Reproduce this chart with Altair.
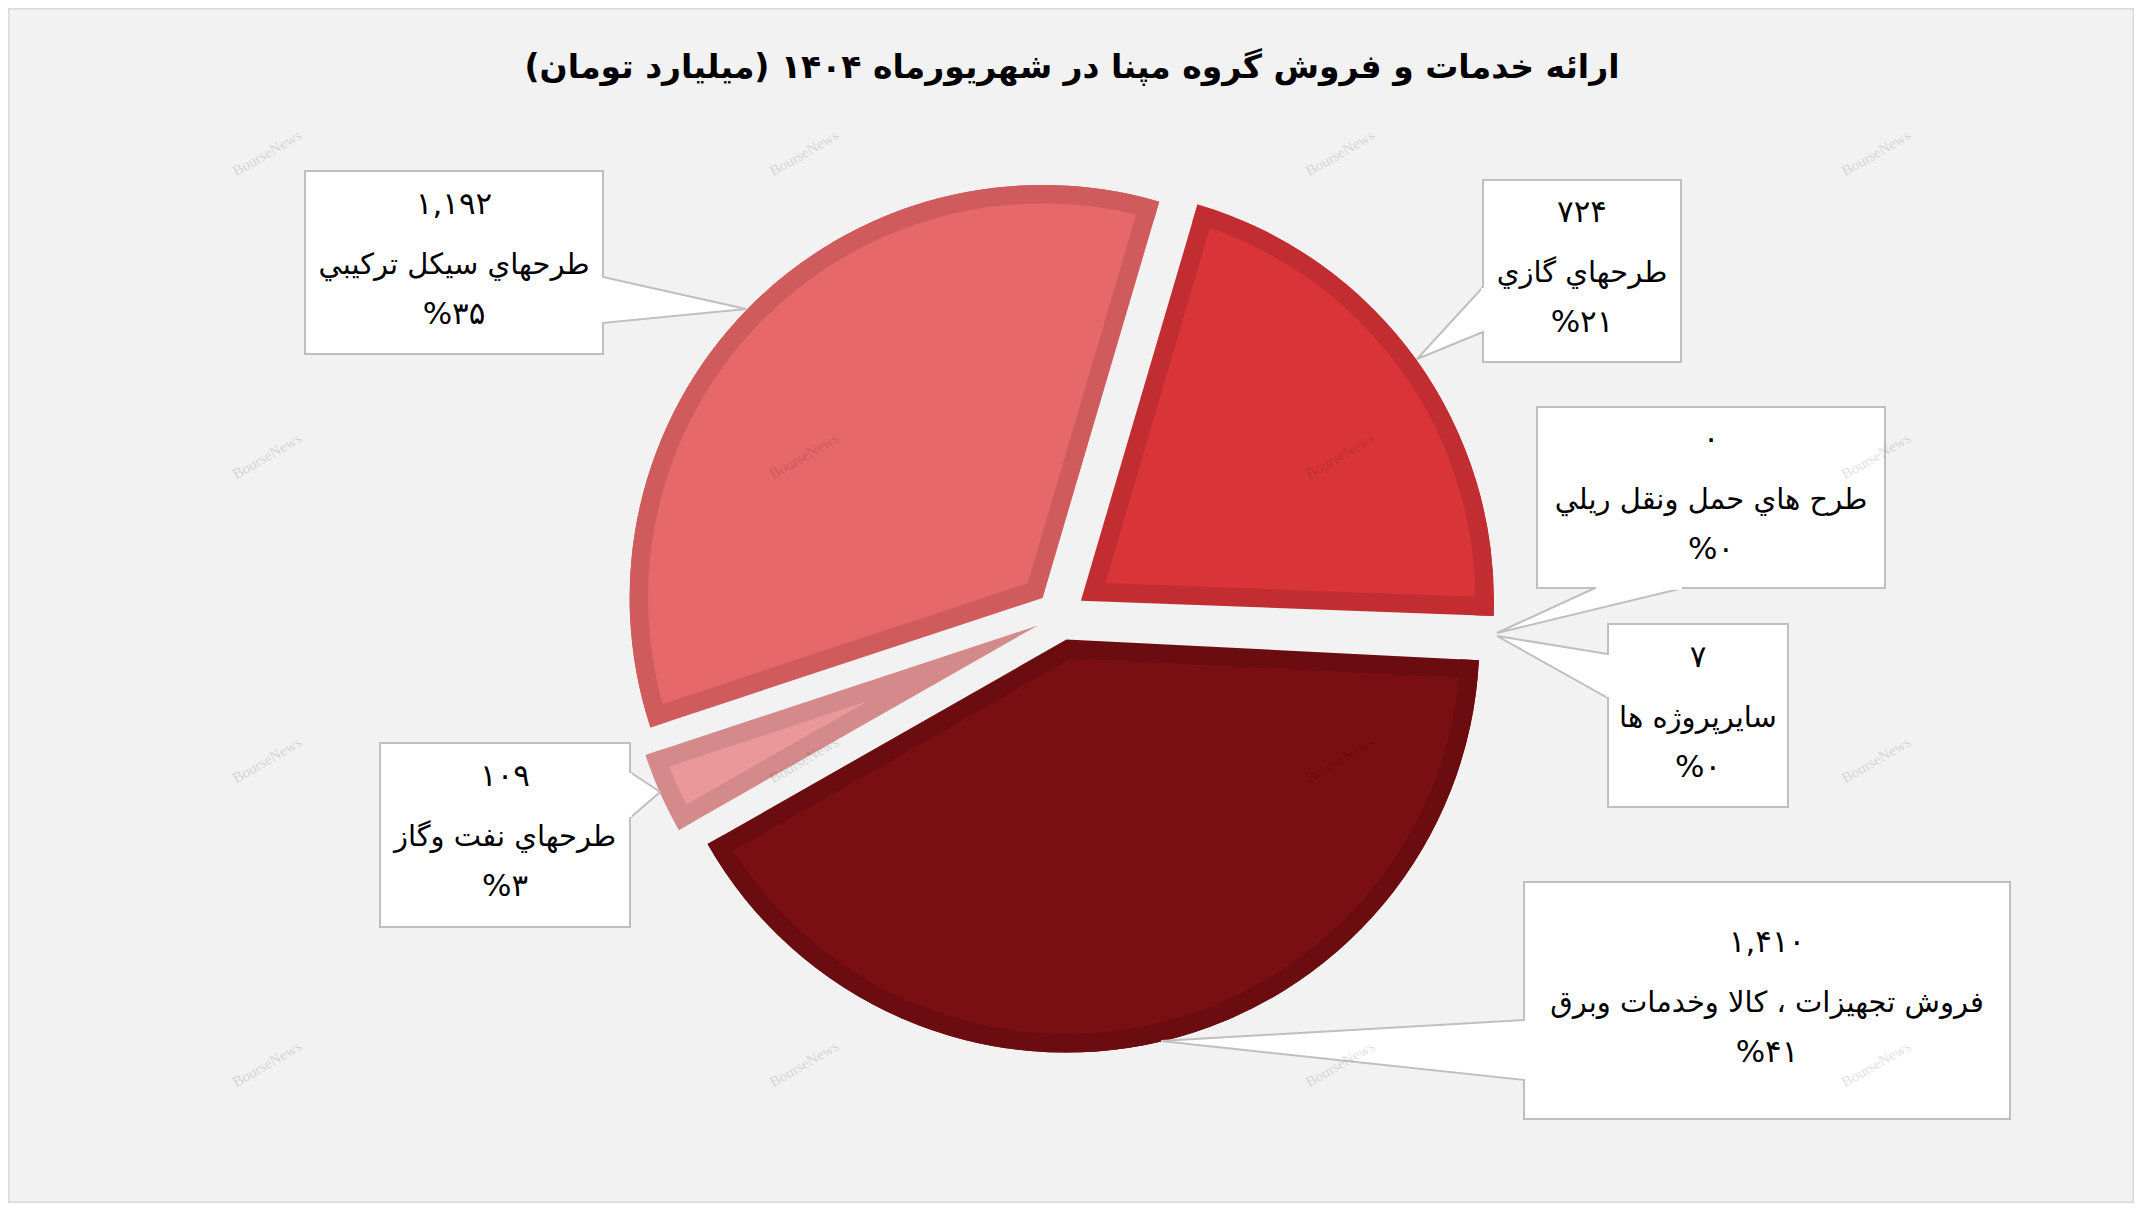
import altair as alt
import pandas as pd

# ---------------- data ----------------
categories = ["طرحهاي گازي", "طرح هاي حمل ونقل ريلي", "سايرپروژه ها",
              "فروش تجهيزات ، كالا وخدمات وبرق", "طرحهاي نفت وگاز", "طرحهاي سيکل ترکيبي"]
values = [724, 0, 7, 1410, 109, 1192]
title_text = "ارائه خدمات و فروش گروه مپنا در شهریورماه ۱۴۰۴ (میلیارد تومان)" + "\u200f"

FA = str.maketrans("0123456789", "۰۱۲۳۴۵۶۷۸۹")
total = sum(values)
value_labels = [f"{v:,}".translate(FA) for v in values]
pct_labels = [("%" + str(round(v / total * 100))).translate(FA) for v in values]

# ---------------- styles ----------------
fill_colors = ["#D93539", "#D93539", "#D93539", "#7A0F13", "#EA9899", "#E6686A"]
border_colors = ["#C22D31", "#C22D31", "#C22D31", "#6B0C10", "#D48A8B", "#D05B5D"]
FONT = "DejaVu Sans"

# ---------------- layout (page pixels) ----------------
OFF = 8
W_CH, H_CH = 2126, 1195
CX, CY = 1060.6 - OFF, 615.3 - OFF
EXPLODE = 25
R = 413
BW = 18.5
START = 16.4 * 3.141592653589793 / 180

box_x0 = [1483, 1537, 1608, 1524, 380, 305]
box_y0 = [180, 407, 624, 882, 743, 171]
box_x1 = [1681, 1885, 1788, 2010, 630, 603]
box_y1 = [362, 588, 807, 1119, 927, 354]
tip_x = [1417, 1497, 1497, 1161, 660, 746]
tip_y = [359, 633, 636, 1041, 792, 309]
side = ["left", "bottom", "left", "left", "right", "right"]
base_a = [287, 1595, 654, 1020, 772, 277]
base_b = [332, 1683, 698, 1080, 818, 323]
line_dy = [-49, 11, 61]
line_size = [31, 29, 31]

wm_x = [267, 804, 1340, 1876]
wm_y = [153, 456, 760, 1064]

# ---------------- pie ----------------
pie_df = pd.DataFrame({"category": categories, "value": values, "order": range(len(values))})

pie_base = (
    alt.Chart(pie_df)
    .transform_joinaggregate(total="sum(value)")
    .transform_window(cum="sum(value)", sort=[alt.SortField("order")], frame=[None, 0])
    .transform_calculate(
        a1=f"{START} + 2*PI*datum.cum/datum.total",
        a0=f"datum.a1 - 2*PI*datum.value/datum.total",
        mid="(datum.a0 + datum.a1)/2",
        half="(datum.a1 - datum.a0)/2",
        ax=f"{CX} + {EXPLODE}*sin(datum.mid)",
        ay=f"{CY} - {EXPLODE}*cos(datum.mid)",
        d=f"{BW}/sin(datum.half)",
        px="datum.ax + datum.d*sin(datum.mid)",
        py="datum.ay - datum.d*cos(datum.mid)",
        r2=f"{R} - datum.d",
    )
    .transform_filter("datum.value/datum.total >= 0.01")
)

enc_common = dict(
    theta=alt.Theta("a0:Q", scale=None, stack=None),
    theta2="a1:Q",
)

outer = pie_base.mark_arc(radius=R).encode(
    x=alt.X("ax:Q", scale=None, axis=None),
    y=alt.Y("ay:Q", scale=None, axis=None),
    color=alt.Color("category:N", scale=alt.Scale(domain=categories, range=border_colors), legend=None),
    **enc_common,
)
inner = pie_base.mark_arc().encode(
    x=alt.X("px:Q", scale=None, axis=None),
    y=alt.Y("py:Q", scale=None, axis=None),
    radius=alt.Radius("r2:Q", scale=None),
    fill=alt.Fill("category:N", scale=alt.Scale(domain=categories, range=fill_colors), legend=None),
    **enc_common,
)
ring = pie_base.mark_arc(radius=R, radius2=R - BW).encode(
    x=alt.X("ax:Q", scale=None, axis=None),
    y=alt.Y("ay:Q", scale=None, axis=None),
    color=alt.Color("category:N", scale=alt.Scale(domain=categories, range=border_colors), legend=None),
    **enc_common,
)

# ---------------- callouts ----------------
GRAY = "#BFBFBF"
box_df = pd.DataFrame({
    "x0": [v - OFF for v in box_x0], "x1": [v - OFF for v in box_x1],
    "y0": [v - OFF for v in box_y0], "y1": [v - OFF for v in box_y1],
})
boxes = alt.Chart(box_df).mark_rect(fill="white", stroke=GRAY, strokeWidth=2).encode(
    x=alt.X("x0:Q", scale=None, axis=None), x2="x1:Q",
    y=alt.Y("y0:Q", scale=None, axis=None), y2="y1:Q",
)

vrows, hrows, rules = [], [], []
for i in range(len(categories)):
    s = side[i]
    if s in ("left", "right"):
        ex = (box_x0[i] if s == "left" else box_x1[i]) - OFF
        vrows.append({"id": i, "x": tip_x[i] - OFF, "y": tip_y[i] - OFF, "y2": tip_y[i] - OFF})
        vrows.append({"id": i, "x": ex, "y": base_a[i] - OFF, "y2": base_b[i] - OFF})
        rules.append({"x": ex, "x2": ex, "y": base_a[i] - OFF + 1, "y2": base_b[i] - OFF - 1})
    else:
        ey = (box_y1[i] if s == "bottom" else box_y0[i]) - OFF
        hrows.append({"id": i, "y": tip_y[i] - OFF, "x": tip_x[i] - OFF, "x2": tip_x[i] - OFF})
        hrows.append({"id": i, "y": ey, "x": base_a[i] - OFF, "x2": base_b[i] - OFF})
        rules.append({"x": base_a[i] - OFF + 1, "x2": base_b[i] - OFF - 1, "y": ey, "y2": ey})

wedges_v = alt.Chart(pd.DataFrame(vrows)).mark_area(
    orient="vertical", fill="white", stroke=GRAY, strokeWidth=2
).encode(
    x=alt.X("x:Q", scale=None, axis=None),
    y=alt.Y("y:Q", scale=None, axis=None), y2="y2:Q",
    detail="id:N",
)
wedges_h = alt.Chart(pd.DataFrame(hrows)).mark_area(
    orient="horizontal", fill="white", stroke=GRAY, strokeWidth=2
).encode(
    y=alt.Y("y:Q", scale=None, axis=None),
    x=alt.X("x:Q", scale=None, axis=None), x2="x2:Q",
    detail="id:N",
)
covers = alt.Chart(pd.DataFrame(rules)).mark_rule(stroke="white", strokeWidth=3.5).encode(
    x=alt.X("x:Q", scale=None, axis=None), x2="x2:Q",
    y=alt.Y("y:Q", scale=None, axis=None), y2="y2:Q",
)

trows = []
for i in range(len(categories)):
    xc = (box_x0[i] + box_x1[i]) / 2 - OFF
    yc = (box_y0[i] + box_y1[i]) / 2 - OFF
    for txt, dy, fs in zip([value_labels[i], categories[i], pct_labels[i]], line_dy, line_size):
        trows.append({"x": xc, "y": yc + dy, "t": txt, "fs": fs})
labels = alt.Chart(pd.DataFrame(trows)).mark_text(
    font=FONT, color="#000000", align="center", baseline="alphabetic"
).encode(
    x=alt.X("x:Q", scale=None, axis=None),
    y=alt.Y("y:Q", scale=None, axis=None),
    size=alt.Size("fs:Q", scale=None, legend=None),
    text="t:N",
)

# ---------------- watermark ----------------
wm_df = pd.DataFrame([{"x": x - OFF, "y": y - OFF, "t": "BourseNews"} for y in wm_y for x in wm_x])
watermark = alt.Chart(wm_df).mark_text(
    font="Liberation Serif", fontSize=15, angle=330, color="#000000", opacity=0.12,
    align="center", baseline="middle"
).encode(
    x=alt.X("x:Q", scale=None, axis=None),
    y=alt.Y("y:Q", scale=None, axis=None),
    text="t:N",
)

# ---------------- title ----------------
title_df = pd.DataFrame({"x": [1072 - OFF], "y": [78 - OFF], "t": [title_text]})
title = alt.Chart(title_df).mark_text(
    font=FONT, fontSize=33, fontWeight="bold", color="#000000", align="center", baseline="alphabetic"
).encode(
    x=alt.X("x:Q", scale=None, axis=None),
    y=alt.Y("y:Q", scale=None, axis=None),
    text="t:N",
)

chart = alt.layer(
    outer, inner, ring, wedges_v, wedges_h, boxes, covers, labels, watermark, title
).properties(
    width=W_CH, height=H_CH, padding=0, autosize=alt.AutoSizeParams(type="none"),
    background="#F2F2F2",
).configure_view(stroke="#D9D9D9", strokeWidth=3)

chart.save("out.html", embed_options={"renderer": "svg", "actions": False})
